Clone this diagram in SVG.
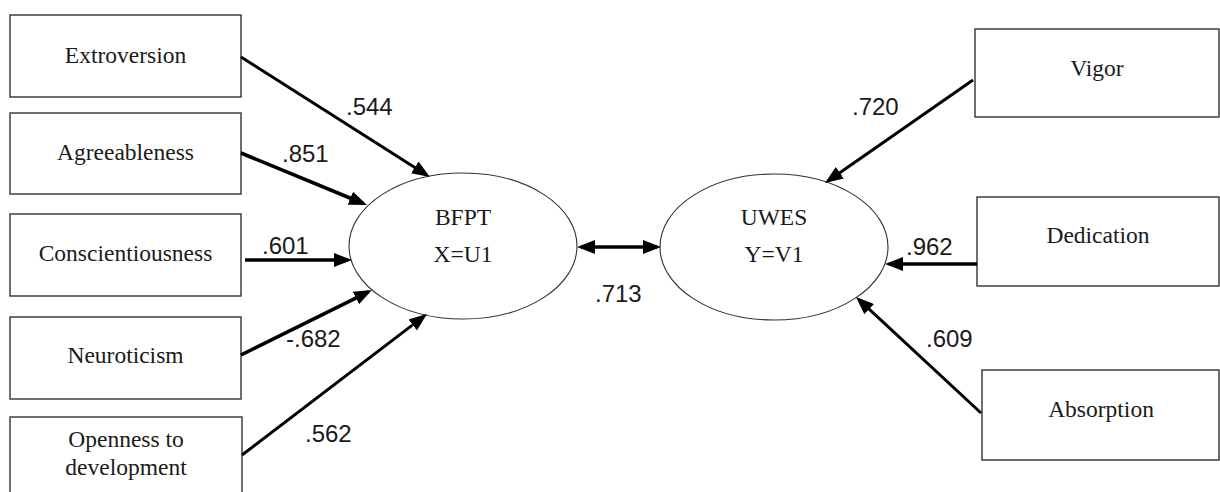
<svg xmlns="http://www.w3.org/2000/svg" width="1220" height="492" viewBox="0 0 1220 492">
  <style>
    .box { fill: #ffffff; stroke: #333333; stroke-width: 1.4; }
    .latent { fill: #ffffff; stroke: #333333; stroke-width: 1.1; }
    .lbl { font-family: "Liberation Serif", "Times New Roman", serif; font-size: 23.5px; fill: #1a1a1a; text-anchor: middle; }
    .coef { font-family: "Liberation Sans", Arial, sans-serif; font-size: 24px; fill: #1a1a1a; }
    .path { fill: none; stroke: #000000; stroke-width: 3; }
    .heavy { stroke-width: 3.6; }
  </style>
  <defs>
    <marker id="head" viewBox="0 0 18 14" markerWidth="18" markerHeight="14" refX="14" refY="7" orient="auto-start-reverse" markerUnits="userSpaceOnUse">
      <path d="M0,0 L18,7 L0,14 z" fill="#000000"/>
    </marker>
  </defs>
  <rect width="1220" height="492" fill="#ffffff"/>

  <!-- observed indicators of the personality factor -->
  <g id="extroversion">
    <rect class="box" x="10" y="15" width="231" height="82"/>
    <text class="lbl" x="125.5" y="62.5">Extroversion</text>
  </g>
  <g id="agreeableness">
    <rect class="box" x="10" y="113" width="231" height="81"/>
    <text class="lbl" x="125.5" y="160">Agreeableness</text>
  </g>
  <g id="conscientiousness">
    <rect class="box" x="10" y="214" width="231" height="82"/>
    <text class="lbl" x="125.5" y="261">Conscientiousness</text>
  </g>
  <g id="neuroticism">
    <rect class="box" x="10" y="317" width="231" height="82"/>
    <text class="lbl" x="125.5" y="363">Neuroticism</text>
  </g>
  <g id="openness">
    <rect class="box" x="10" y="417" width="232" height="84"/>
    <text class="lbl" x="126" y="447">Openness to</text>
    <text class="lbl" x="126" y="475">development</text>
  </g>

  <!-- latent variables -->
  <g id="bfpt">
    <ellipse class="latent" cx="463" cy="246" rx="114" ry="73"/>
    <text class="lbl" x="463" y="225">BFPT</text>
    <text class="lbl" x="463" y="262">X=U1</text>
  </g>
  <g id="uwes">
    <ellipse class="latent" cx="774" cy="247" rx="114" ry="73"/>
    <text class="lbl" x="774" y="225">UWES</text>
    <text class="lbl" x="774" y="262">Y=V1</text>
  </g>

  <!-- observed indicators of work engagement -->
  <g id="vigor">
    <rect class="box" x="975" y="29" width="244" height="88"/>
    <text class="lbl" x="1097" y="76">Vigor</text>
  </g>
  <g id="dedication">
    <rect class="box" x="977" y="197" width="242" height="89"/>
    <text class="lbl" x="1098" y="243">Dedication</text>
  </g>
  <g id="absorption">
    <rect class="box" x="982" y="370" width="237" height="90"/>
    <text class="lbl" x="1101" y="417">Absorption</text>
  </g>

  <!-- loadings and the canonical correlation -->
  <g id="connectors">
    <line class="path" x1="241" y1="57" x2="426.6" y2="174.9" marker-end="url(#head)"/>
    <line class="path heavy" x1="241" y1="153" x2="363.3" y2="203.5" marker-end="url(#head)"/>
    <line class="path heavy" x1="245" y1="260" x2="348" y2="260" marker-end="url(#head)"/>
    <line class="path heavy" x1="241" y1="355" x2="368.4" y2="291.8" marker-end="url(#head)"/>
    <line class="path" x1="242" y1="455" x2="423.8" y2="316.4" marker-end="url(#head)"/>
    <line class="path heavy" x1="581" y1="247" x2="657" y2="247" marker-start="url(#head)" marker-end="url(#head)"/>
    <line class="path" x1="973" y1="80" x2="828.3" y2="180.7" marker-end="url(#head)"/>
    <line class="path heavy" x1="977" y1="264" x2="889" y2="264" marker-end="url(#head)"/>
    <line class="path" x1="981" y1="413" x2="858.9" y2="299.7" marker-end="url(#head)"/>
  </g>

  <g id="coefficients">
    <text class="coef" x="346" y="115">.544</text>
    <text class="coef" x="282" y="162">.851</text>
    <text class="coef" x="262" y="254">.601</text>
    <text class="coef" x="286" y="347">-.682</text>
    <text class="coef" x="305" y="442">.562</text>
    <text class="coef" x="595" y="302">.713</text>
    <text class="coef" x="852" y="115">.720</text>
    <text class="coef" x="906" y="255">.962</text>
    <text class="coef" x="926" y="347">.609</text>
  </g>
</svg>
